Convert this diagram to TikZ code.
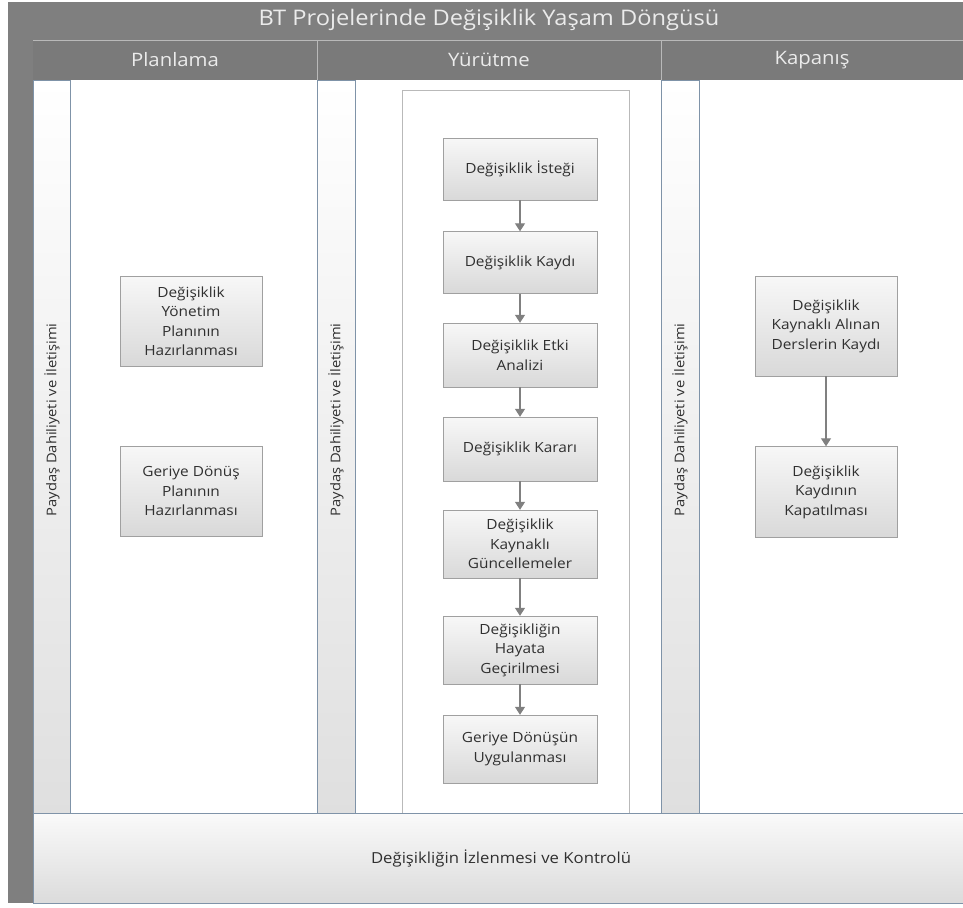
\documentclass[tikz,border=0pt]{standalone}
\usepackage{fontspec}
\setmainfont{Open Sans}[FakeStretch=1.1]
\usepackage{xcolor}
\usetikzlibrary{arrows.meta}

\definecolor{bandgray}{HTML}{7F7F7F}
\definecolor{headgray}{HTML}{7A7A7A}
\definecolor{edgeblue}{HTML}{7F93A8}
\definecolor{boxedge}{HTML}{A0A0A0}
\definecolor{textgray}{HTML}{303030}

\begin{document}
\begin{tikzpicture}[x=1pt, y=-1pt,
    activity/.style={rectangle, draw=boxedge, top color=gray!6, bottom color=gray!30, text=textgray, align=center, inner sep=2pt, font=\fontsize{14}{19.5}\selectfont},
    planbox/.style={activity, minimum width=142pt, minimum height=90pt},
    runbox/.style={activity, minimum width=154pt},
    flow/.style={-{Triangle[length=8pt, width=10pt]}, draw=gray, line width=1.3pt},
    lanestrip/.style={draw=edgeblue, top color=white, bottom color=gray!25},
    striptext/.style={rotate=90, text=textgray, font=\fontsize{13.4}{15}\selectfont},
    headtext/.style={text=white!92!black, font=\fontsize{18.5}{20}\selectfont}
  ]
  \useasboundingbox (0,0) rectangle (963,907);

  % frame and headers
  \fill[white] (0,0) rectangle (963,907);
  \fill[bandgray] (8,2) rectangle (963,40);
  \fill[bandgray] (8,40) rectangle (33,903);
  \fill[headgray] (33,41) rectangle (963,80);
  \draw[gray!55, line width=1.2pt] (33,40.5) -- (963,40.5);
  \draw[gray!55] (317,41) -- (317,80);
  \draw[gray!55] (661,41) -- (661,80);
  \node[text=white!92!black, font=\fontsize{21.5}{24}\selectfont] (title) at (489,20) {BT Projelerinde Değişiklik Yaşam Döngüsü};
  \node[headtext] (plan) at (175,60) {Planlama};
  \node[headtext] (exec) at (489,60) {Yürütme};
  \node[headtext] (close) at (812,60) {Kapanış};

  % lanes
  \draw[gray!60] (317,80) -- (317,813);
  \draw[gray!60] (661,80) -- (661,813);
  \shade[lanestrip] (33,80) rectangle (70,813);
  \shade[lanestrip] (317,80) rectangle (355,813);
  \shade[lanestrip] (661,80) rectangle (699,813);
  \node[striptext] (stake1) at (52,420) {Paydaş Dahiliyeti ve İletişimi};
  \node[striptext] (stake2) at (336,420) {Paydaş Dahiliyeti ve İletişimi};
  \node[striptext] (stake3) at (680,420) {Paydaş Dahiliyeti ve İletişimi};
  \draw[gray!55, line width=1pt] (402,90) rectangle (629,813);

  % bottom band
  \shade[draw=edgeblue, top color=gray!4, bottom color=gray!28] (33,813) rectangle (963,903);
  \node[text=textgray, font=\fontsize{15.2}{18}\selectfont] (monitor) at (501,858) {Değişikliğin İzlenmesi ve Kontrolü};

  % planlama
  \node[planbox] (p1) at (191,321) {Değişiklik\\Yönetim\\Planının\\Hazırlanması};
  \node[planbox] (p2) at (191,491) {Geriye Dönüş\\Planının\\Hazırlanması};

  % yurutme
  \node[runbox, minimum height=62pt] (r1) at (520,169) {Değişiklik İsteği};
  \node[runbox, minimum height=62pt] (r2) at (520,262.5) {Değişiklik Kaydı};
  \node[runbox, minimum height=64pt] (r3) at (520,355) {Değişiklik Etki\\Analizi};
  \node[runbox, minimum height=64pt] (r4) at (520,449) {Değişiklik Kararı};
  \node[runbox, minimum height=68pt] (r5) at (520,544) {Değişiklik\\Kaynaklı\\Güncellemeler};
  \node[runbox, minimum height=68pt] (r6) at (520,650) {Değişikliğin\\Hayata\\Geçirilmesi};
  \node[runbox, minimum height=68pt] (r7) at (520,749) {Geriye Dönüşün\\Uygulanması};

  % kapanis
  \node[planbox, minimum height=100pt] (k1) at (826,326) {Değişiklik\\Kaynaklı Alınan\\Derslerin Kaydı};
  \node[planbox, minimum height=91pt] (k2) at (826,492) {Değişiklik\\Kaydının\\Kapatılması};

  \draw[flow] (r1) -- (r2);
  \draw[flow] (r2) -- (r3);
  \draw[flow] (r3) -- (r4);
  \draw[flow] (r4) -- (r5);
  \draw[flow] (r5) -- (r6);
  \draw[flow] (r6) -- (r7);
  \draw[flow] (k1) -- (k2);
\end{tikzpicture}
\end{document}
